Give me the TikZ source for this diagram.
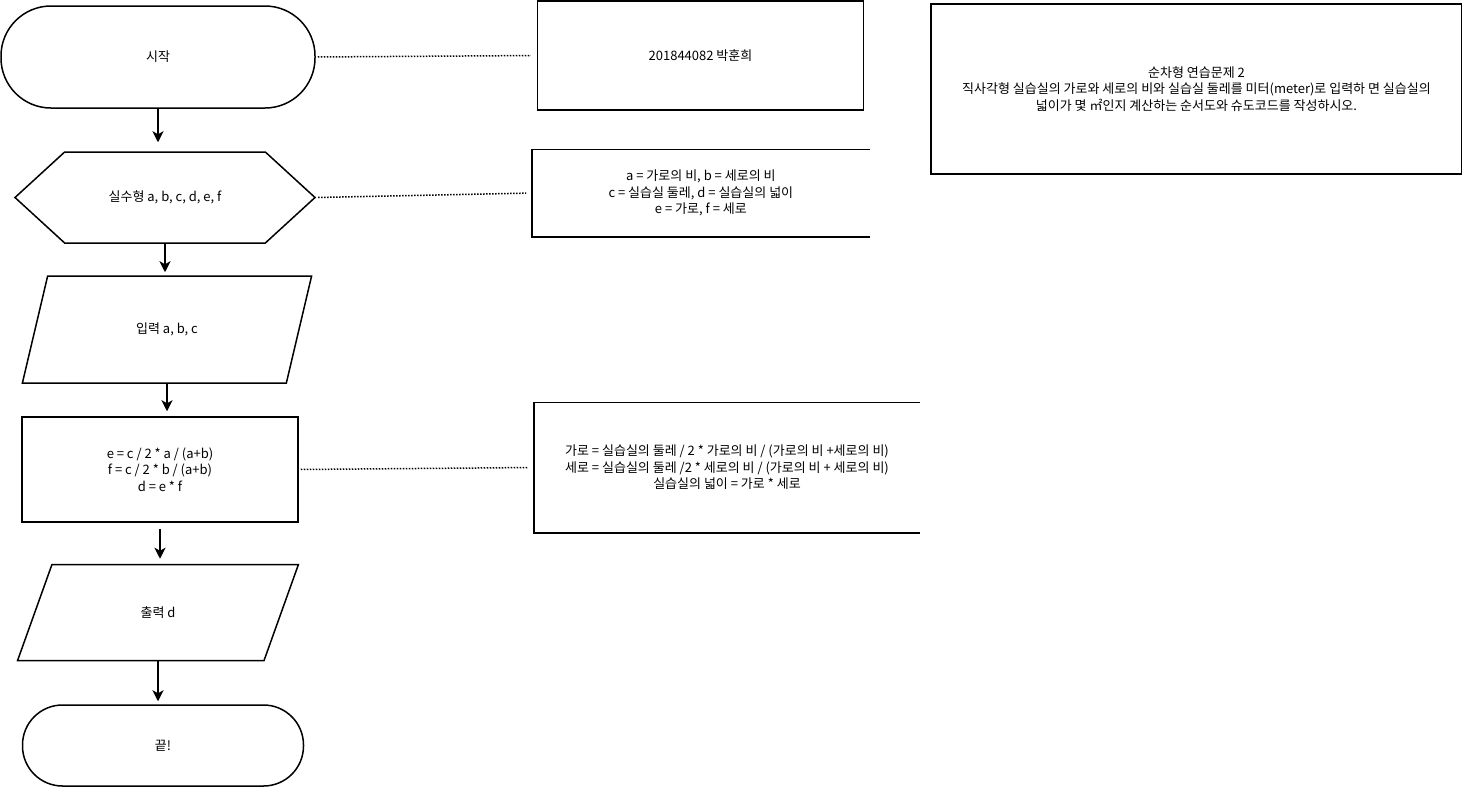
\documentclass[tikz,border=0pt]{standalone}
\usepackage{fontspec}
\setmainfont{Noto Sans CJK KR}
\usetikzlibrary{arrows.meta,shapes.geometric,shapes.symbols,positioning}
\tikzset{
  basic/.style = {draw, line width=1.5pt, align=center,
                  font=\fontsize{13pt}{16.5pt}\selectfont},
  term/.style  = {basic, rectangle, rounded corners=50pt,
                  minimum width=314pt, minimum height=102pt},
  prep/.style  = {basic, signal, signal to=west and east,
                  signal pointer angle=85, minimum width=300pt, minimum height=91pt},
  io/.style    = {basic, trapezium, trapezium left angle=70,
                  trapezium right angle=110, trapezium stretches=true},
  proc/.style  = {basic, rectangle, minimum width=276pt, minimum height=105pt},
  note/.style  = {basic, rectangle, draw=none},
  flow/.style  = {->, line width=1.6pt},
  link/.style  = {line width=1.5pt, dash pattern=on 1.5pt off 1.5pt,
                  shorten <=2pt, shorten >=6pt}
}

\begin{document}
\begin{tikzpicture}[x=1pt, y=-1pt, node distance=138pt,
  >={Stealth[length=11pt,width=11pt,inset=3pt]}]
\useasboundingbox (0,0) rectangle (1462,788);

% the flowchart, top to bottom
\node[term] (start) at (158,57) {시작};
\node[prep, below of=start, xshift=7pt, yshift=-2.5pt] (decl) {실수형 a, b, c, d, e, f};
\node[io, minimum width=291pt, minimum height=107pt, below of=decl, xshift=2pt, yshift=6pt] (input) {입력 a, b, c};
\node[proc, below of=input, xshift=-7pt, yshift=-2pt] (calc) {e = c / 2 * a / (a+b)\\f = c / 2 * b / (a+b)\\d = e * f};
\node[io, minimum width=282pt, minimum height=96pt, below of=calc, xshift=-2pt, yshift=-5pt] (output) {출력 d};
\node[term, rounded corners=40pt, minimum width=281pt, minimum height=81pt, below of=output, xshift=5pt, yshift=5pt] (stop) {끝!};

% notes on the right
\node[note, draw, minimum width=326pt, minimum height=109pt, right=221pt of start, yshift=1.5pt] (name) {201844082 박훈희};
\node[note, minimum width=336pt, minimum height=86pt, right=216pt of decl, yshift=4.5pt] (vars) {a = 가로의 비, b = 세로의 비\\c = 실습실 둘레, d = 실습실의 넓이\\e = 가로, f = 세로};
\node[note, minimum width=385pt, minimum height=129pt, right=235pt of calc, yshift=2pt] (formula) {가로 = 실습실의 둘레 / 2 * 가로의 비 / (가로의 비 +세로의 비)\\세로 = 실습실의 둘레 /2 * 세로의 비 / (가로의 비 + 세로의 비)\\실습실의 넓이 = 가로 * 세로};
\node[note, draw, minimum width=531pt, minimum height=170pt, right=66pt of name, yshift=-33.5pt] (task) {순차형 연습문제 2\\직사각형 실습실의 가로와 세로의 비와 실습실 둘레를 미터(meter)로 입력하 면 실습실의\\넓이가 몇 ㎡인지 계산하는 순서도와 슈도코드를 작성하시오.};

% open brackets round the notes
\foreach \n in {vars, formula}
  \draw[line width=1.5pt] (\n.north east) -| (\n.south west) -- (\n.south east);

% arrows between the steps
\foreach \a/\b/\s/\e in {start/decl/0pt/9pt, decl/input/0pt/3pt, input/calc/0pt/5pt, calc/output/6pt/5pt, output/stop/0pt/3pt}
  \draw[flow, shorten <=\s, shorten >=\e] (\a.south) -- (\a.south |- \b.north);

% dotted links to the notes
\foreach \a/\b in {start/name, decl/vars, calc/formula}
  \draw[link] (\a.east) -- (\b.west);
\end{tikzpicture}
\end{document}
